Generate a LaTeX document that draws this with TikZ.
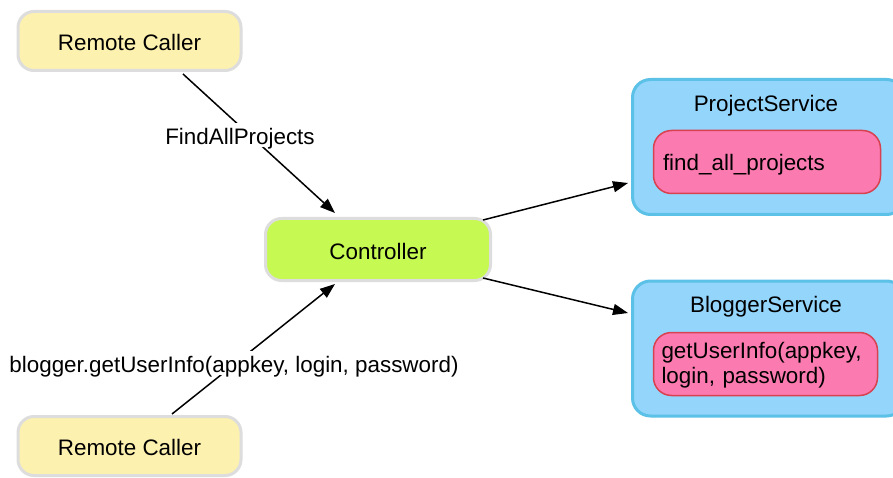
\documentclass[tikz,border=0pt]{standalone}
\usepackage{fontspec}
\setmainfont{Liberation Sans}
\usetikzlibrary{arrows.meta}
\definecolor{callerfill}{HTML}{FDF1B0}
\definecolor{greyline}{HTML}{DDDDDD}
\definecolor{ctlfill}{HTML}{C6F952}
\definecolor{svcfill}{HTML}{94D5FC}
\definecolor{svcline}{HTML}{5BC1E6}
\definecolor{opfill}{HTML}{FB7BB0}
\definecolor{opline}{HTML}{D8414F}
\tikzset{
  every node/.style={font=\fontsize{22.4}{25}\selectfont, inner sep=0pt,
    text height=19.5pt, text depth=0pt},
  caller/.style={draw=greyline, fill=callerfill, line width=3pt, rounded corners=16pt,
    minimum width=223pt, minimum height=59pt},
  ctlbox/.style={draw=greyline, fill=ctlfill, line width=3pt, rounded corners=16pt,
    minimum width=225pt, minimum height=62pt},
  svcbox/.style={draw=svcline, fill=svcfill, line width=3pt, rounded corners=18pt,
    minimum width=272pt, minimum height=135pt},
  opbox/.style={draw=opline, fill=opfill, line width=1.5pt, rounded corners=18pt,
    minimum height=63pt, text width=208pt, align=left},
  msg/.style={fill=white, inner sep=2pt},
  flow/.style={line width=1.5pt, -{Triangle[length=15pt,width=11pt]}},
}
\begin{document}
\begin{tikzpicture}[x=1pt, y=-1pt]
\clip (0,0) rectangle (893,478);
\fill[white] (0,0) rectangle (893,478);

% callers and controller
\node[caller] (rc1) at (129.5,41) {Remote Caller};
\node[caller] (rc2) at (129.5,446) {Remote Caller};
\node[ctlbox] (ctl) at (378,249.5) {Controller};

% services with their operations
\node[svcbox] (ps) at (768.5,147) {};
\node (pstitle) at (766,102) {ProjectService};
\node[opbox, minimum width=227pt, text height=17pt] (psop) at (767,162) {find\_all\_projects};

\node[svcbox] (bs) at (768.5,348.5) {};
\node (bstitle) at (766,303) {BloggerService};
\node[opbox, minimum width=224pt, text height=0pt, text depth=12pt] (bsop) at (765.5,364)
  {getUserInfo(appkey,\\login, password)};

% calls
\draw[flow] ([xshift=53.5pt,yshift=-2pt]rc1.south) -- ([xshift=-43pt,yshift=4pt]ctl.north);
\draw[flow] ([xshift=42.5pt,yshift=1pt]rc2.north) -- ([xshift=-43pt,yshift=-2pt]ctl.south);
\draw[flow] ([xshift=-9pt,yshift=29.5pt]ctl.east) -- ([xshift=-3pt,yshift=-36pt]ps.west);
\draw[flow] ([xshift=-9pt,yshift=-28.5pt]ctl.east) -- ([xshift=-3pt,yshift=35.5pt]bs.west);

% message labels
\node[msg] (m1) at (240,135) {FindAllProjects};
\node[msg] (m2) at (234,363) {blogger.getUserInfo(appkey, login, password)};
\end{tikzpicture}
\end{document}
